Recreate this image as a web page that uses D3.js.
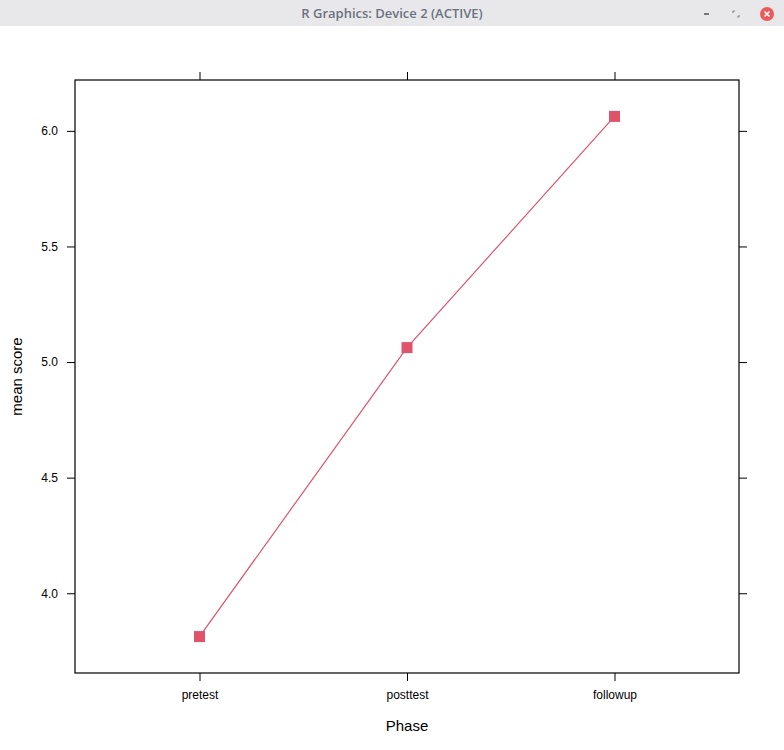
<!DOCTYPE html>
<html><head><meta charset="utf-8">
<script src="https://cdn.jsdelivr.net/npm/d3@7"></script>
<style>body{margin:0;background:#fff;}svg{display:block;}</style>
</head><body>
<script>
const categories = ["pretest", "posttest", "followup"];
const meanScores = [3.8125, 5.0625, 6.0625];
const yTickValues = [4.0, 4.5, 5.0, 5.5, 6.0];
const xLabel = "Phase";
const yLabel = "mean score";
const windowTitle = "R Graphics: Device 2 (ACTIVE)";

(function(){
const W = 784, H = 750;
const svg = d3.select("body").append("svg").attr("width", W).attr("height", H);
svg.append("rect").attr("width", W).attr("height", H).attr("fill", "#fff");

// window title bar
svg.append("rect").attr("x",0).attr("y",0).attr("width",W).attr("height",26).attr("fill","#e8e8eb");
svg.append("text").attr("x",392).attr("y",18).attr("text-anchor","middle")
  .attr("font-family","'Open Sans','Noto Sans',sans-serif").attr("font-weight","600")
  .attr("font-size",13).attr("fill","#6b7280").text(windowTitle);
svg.append("rect").attr("x",704).attr("y",13).attr("width",5).attr("height",2).attr("fill","#777");
svg.append("path").attr("d","M733,11 l2,0 M733,11 l0,2 M739,17 l-2,0 M739,17 l0,-2").attr("stroke","#888").attr("stroke-width",1.2).attr("fill","none");
svg.append("circle").attr("cx",767).attr("cy",14).attr("r",7).attr("fill","#ec5a5a");
svg.append("path").attr("d","M764.5,11.5 L769.5,16.5 M769.5,11.5 L764.5,16.5").attr("stroke","#fff").attr("stroke-width",1.6);

const pL = 75, pR = 739, pT = 80, pB = 673;
const ext = d3.extent(meanScores);
const pad = (ext[1] - ext[0]) * 0.07;
const y = d3.scaleLinear().domain([ext[0] - pad, ext[1] + pad]).range([pB, pT]);
const x = d3.scalePoint().domain(categories).range([pL, pR]).padding(0.6);

const font = "'Liberation Sans', Arial, sans-serif";
const g = svg.append("g");

const axL = d3.axisLeft(y).tickValues(yTickValues).tickFormat(d3.format(".1f")).tickSize(8).tickPadding(9);
const axR = d3.axisRight(y).tickValues(yTickValues).tickFormat("").tickSize(8);
const axB = d3.axisBottom(x).tickSize(8).tickPadding(9);
const axT = d3.axisTop(x).tickFormat("").tickSize(8);

function styleAxis(sel){
  sel.select(".domain").remove();
  sel.selectAll("line").attr("stroke","#000").attr("stroke-width",1);
  sel.selectAll("text").attr("font-family",font).attr("font-size",12).attr("fill","#000");
}
g.append("g").attr("transform",`translate(${pL},0)`).call(axL).call(styleAxis);
g.append("g").attr("transform",`translate(${pR},0)`).call(axR).call(styleAxis);
g.append("g").attr("transform",`translate(0,${pB})`).call(axB).call(styleAxis);
g.append("g").attr("transform",`translate(0,${pT})`).call(axT).call(styleAxis);

g.append("rect").attr("x",pL).attr("y",pT).attr("width",pR-pL).attr("height",pB-pT)
  .attr("fill","none").attr("stroke","#000").attr("stroke-width",1.2);

const col = "#DF536B";
const data = categories.map((c,i)=>({c, v: meanScores[i]}));
g.append("path").datum(data)
  .attr("d", d3.line().x(d=>x(d.c)).y(d=>y(d.v)))
  .attr("fill","none").attr("stroke",col).attr("stroke-width",1.2);
const s = 11;
g.selectAll("rect.pt").data(data).join("rect").attr("class","pt")
  .attr("x",d=>x(d.c)-s/2).attr("y",d=>y(d.v)-s/2).attr("width",s).attr("height",s).attr("fill",col);

svg.append("text").attr("x",(pL+pR)/2).attr("y",731).attr("text-anchor","middle")
  .attr("font-family",font).attr("font-size",15).attr("fill","#000").text(xLabel);
svg.append("text").attr("transform",`translate(22,${(pT+pB)/2}) rotate(-90)`).attr("text-anchor","middle")
  .attr("font-family",font).attr("font-size",15).attr("fill","#000").text(yLabel);
})();
</script>
</body></html>
